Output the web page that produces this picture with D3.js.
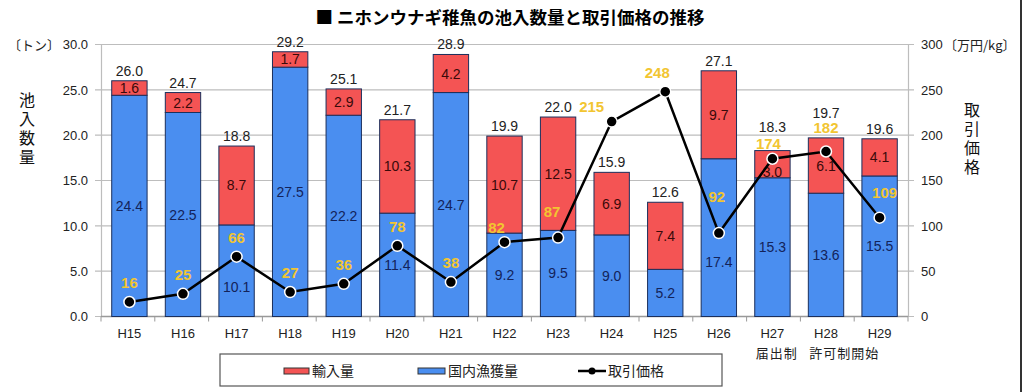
<!DOCTYPE html>
<html>
<head>
<meta charset="utf-8">
<script src="https://cdn.jsdelivr.net/npm/d3@7"></script>
<style>
  body { margin: 0; background: #fff; }
  svg text { font-family: "Liberation Sans", "Noto Sans CJK JP", sans-serif; }
  .jp { font-family: "Noto Sans CJK JP", sans-serif; }
  .vert { writing-mode: vertical-rl; text-orientation: upright; }
</style>
</head>
<body>
<div id="chart"></div>
<script>
// data
var years = ["H15","H16","H17","H18","H19","H20","H21","H22","H23","H24","H25","H26","H27","H28","H29"];
var domestic = [24.4,22.5,10.1,27.5,22.2,11.4,24.7,9.2,9.5,9.0,5.2,17.4,15.3,13.6,15.5];
var imported = [1.6,2.2,8.7,1.7,2.9,10.3,4.2,10.7,12.5,6.9,7.4,9.7,3.0,6.1,4.1];
var totals = ["26.0","24.7","18.8","29.2","25.1","21.7","28.9","19.9","22.0","15.9","12.6","27.1","18.3","19.7","19.6"];
var price = [16,25,66,27,36,78,38,82,87,215,248,92,174,182,109];
var subLabels = {"H27": "届出制", "H28": "許可制開始"};
var leftTicks = [0,5,10,15,20,25,30];
var rightTicks = [0,50,100,150,200,250,300];

// label nudges (layout only) where labels would collide with the line
var domNudge = {"H17": 16, "H26": 24};
var impNudge = {"H27": 8};
var totalNudge = {"H27": -14, "H28": -15};
var priceNudge = {"H22": [-8, 5], "H23": [-6, -7], "H24": [-20, 4], "H25": [-8, 0], "H26": [-2, -17], "H27": [-4, 4], "H28": [0, -4], "H29": [5, -6]};

var W = 1024, H = 392;
var margin = {top: 44.5, left: 101, right: 116, bottom: 75.5};

var svg = d3.select("#chart").append("svg")
    .attr("width", W).attr("height", H);

var x = d3.scaleBand().domain(years)
    .range([margin.left, W - margin.right])
    .paddingInner(0.34).paddingOuter(0.2);
var y = d3.scaleLinear().domain([0, 30]).range([H - margin.bottom, margin.top]);
var y2 = d3.scaleLinear().domain([0, 300]).range([H - margin.bottom, margin.top]);

var red = "#f45454", blue = "#4a8ef0", edge = "#1b2f5c";

// title
svg.append("text").attr("class", "jp")
    .attr("x", 510).attr("y", 24)
    .attr("text-anchor", "middle")
    .style("font-size", "17.5px").style("font-weight", "bold")
    .text("■ ニホンウナギ稚魚の池入数量と取引価格の推移");

// grid lines
svg.append("g").selectAll("line").data(leftTicks).enter().append("line")
    .attr("x1", margin.left - 6).attr("x2", W - margin.right + 6)
    .attr("y1", function(d){ return y(d); }).attr("y2", function(d){ return y(d); })
    .attr("stroke", "#bdbdbd").attr("stroke-width", 1.2);

// left axis
var gl = svg.append("g").attr("transform", "translate(" + margin.left + ",0)")
    .call(d3.axisLeft(y).tickValues(leftTicks).tickFormat(d3.format(".1f")).tickSize(0).tickPadding(13));
gl.select(".domain").attr("stroke", "#bdbdbd").attr("stroke-width", 1.2);
gl.selectAll("text").style("font-size", "13px").attr("fill", "#222");

// right axis
var gr = svg.append("g").attr("transform", "translate(" + (W - margin.right) + ",0)")
    .call(d3.axisRight(y2).tickValues(rightTicks).tickSize(0).tickPadding(13));
gr.select(".domain").attr("stroke", "#bdbdbd").attr("stroke-width", 1.2);
gr.selectAll("text").style("font-size", "13px").attr("fill", "#222");

// bottom axis
var gb = svg.append("g").attr("transform", "translate(0," + y(0) + ")");
gb.append("line").attr("x1", margin.left).attr("x2", W - margin.right)
    .attr("stroke", "#999").attr("stroke-width", 1.5);
gb.selectAll(".tk").data(d3.range(years.length + 1)).enter().append("line")
    .attr("x1", function(i){ return margin.left + i * (W - margin.left - margin.right) / years.length; })
    .attr("x2", function(i){ return margin.left + i * (W - margin.left - margin.right) / years.length; })
    .attr("y1", 0).attr("y2", 5).attr("stroke", "#999");
gb.selectAll(".lbl").data(years).enter().append("text")
    .attr("x", function(d){ return x(d) + x.bandwidth() / 2; })
    .attr("y", 21).attr("text-anchor", "middle")
    .style("font-size", "13px").attr("fill", "#222")
    .text(function(d){ return d; });
gb.selectAll(".sub").data(years.filter(function(d){ return subLabels[d]; })).enter().append("text")
    .attr("class", "jp")
    .attr("x", function(d){ return x(d) + 1; })
    .attr("y", 41).attr("text-anchor", "start")
    .style("font-size", "13px").style("letter-spacing", "1px").attr("fill", "#222")
    .text(function(d){ return subLabels[d]; });

// axis titles
svg.append("text").attr("class", "jp").attr("x", 8).attr("y", 50)
    .style("font-size", "13px").attr("fill", "#222").text("〔トン〕");
svg.append("text").attr("class", "jp").attr("x", 944).attr("y", 50)
    .style("font-size", "13px").attr("fill", "#222").text("〔万円/kg〕");
svg.append("text").attr("class", "jp vert").attr("x", 27).attr("y", 92)
    .style("font-size", "16px").style("letter-spacing", "3px").attr("fill", "#111")
    .text("池入数量");
svg.append("text").attr("class", "jp vert").attr("x", 972).attr("y", 102)
    .style("font-size", "16px").style("letter-spacing", "3px").attr("fill", "#111")
    .text("取引価格");

// bars
var bars = svg.append("g");
years.forEach(function(d, i){
  var bx = x(d), bw = x.bandwidth(), cx = bx + bw / 2;
  var d0 = domestic[i], d1 = domestic[i] + imported[i];
  bars.append("rect").attr("x", bx).attr("y", y(d0)).attr("width", bw).attr("height", y(0) - y(d0))
      .attr("fill", blue).attr("stroke", edge).attr("stroke-width", 1);
  bars.append("rect").attr("x", bx).attr("y", y(d1)).attr("width", bw).attr("height", y(d0) - y(d1))
      .attr("fill", red).attr("stroke", edge).attr("stroke-width", 1);
  bars.append("text").attr("x", cx).attr("y", (y(0) + y(d0)) / 2 + 5 + (domNudge[d] || 0))
      .attr("text-anchor", "middle").style("font-size", "14px").attr("fill", "#13235a")
      .text(domestic[i].toFixed(1));
  bars.append("text").attr("x", cx).attr("y", (y(d0) + y(d1)) / 2 + 5 + (impNudge[d] || 0))
      .attr("text-anchor", "middle").style("font-size", "14px").attr("fill", "#3a0a0a")
      .text(imported[i].toFixed(1));
  bars.append("text").attr("x", cx).attr("y", y(d1) - 5 + (totalNudge[d] || 0))
      .attr("text-anchor", "middle").style("font-size", "14px").attr("fill", "#222")
      .text(totals[i]);
});

// price line
var line = d3.line()
    .x(function(d, i){ return x(years[i]) + x.bandwidth() / 2; })
    .y(function(d){ return y2(d); });
svg.append("path").datum(price).attr("d", line)
    .attr("fill", "none").attr("stroke", "#000").attr("stroke-width", 2.5);
svg.append("g").selectAll("circle").data(price).enter().append("circle")
    .attr("cx", function(d, i){ return x(years[i]) + x.bandwidth() / 2; })
    .attr("cy", function(d){ return y2(d); })
    .attr("r", 5.5).attr("fill", "#000").attr("stroke", "#fff").attr("stroke-width", 1.5);
svg.append("g").selectAll("text").data(price).enter().append("text")
    .attr("x", function(d, i){ var n = priceNudge[years[i]] || [0, 0]; return x(years[i]) + x.bandwidth() / 2 + n[0]; })
    .attr("y", function(d, i){ var n = priceNudge[years[i]] || [0, 0]; return y2(d) - 14 + n[1]; })
    .attr("text-anchor", "middle").style("font-size", "15px").style("font-weight", "bold")
    .attr("fill", "#f2c531")
    .text(function(d){ return d; });

// legend
var lg = svg.append("g");
lg.append("rect").attr("x", 220).attr("y", 354).attr("width", 502).attr("height", 32)
    .attr("fill", "#fff").attr("stroke", "#555").attr("stroke-width", 1.2);
lg.append("rect").attr("x", 284).attr("y", 368).attr("width", 25).attr("height", 6)
    .attr("fill", red).attr("stroke", "#333");
lg.append("text").attr("class", "jp").attr("x", 312).attr("y", 376)
    .style("font-size", "14px").attr("fill", "#222").text("輸入量");
lg.append("rect").attr("x", 418).attr("y", 368).attr("width", 27).attr("height", 6)
    .attr("fill", blue).attr("stroke", "#333");
lg.append("text").attr("class", "jp").attr("x", 448).attr("y", 376)
    .style("font-size", "14px").attr("fill", "#222").text("国内漁獲量");
lg.append("line").attr("x1", 578).attr("x2", 606).attr("y1", 371).attr("y2", 371)
    .attr("stroke", "#000").attr("stroke-width", 2.5);
lg.append("circle").attr("cx", 592).attr("cy", 371).attr("r", 3.5).attr("fill", "#000");
lg.append("text").attr("class", "jp").attr("x", 608).attr("y", 376)
    .style("font-size", "14px").attr("fill", "#222").text("取引価格");

// right border
svg.append("line").attr("x1", 1021).attr("x2", 1021).attr("y1", 0).attr("y2", H)
    .attr("stroke", "#333").attr("stroke-width", 2);
</script>
</body>
</html>
